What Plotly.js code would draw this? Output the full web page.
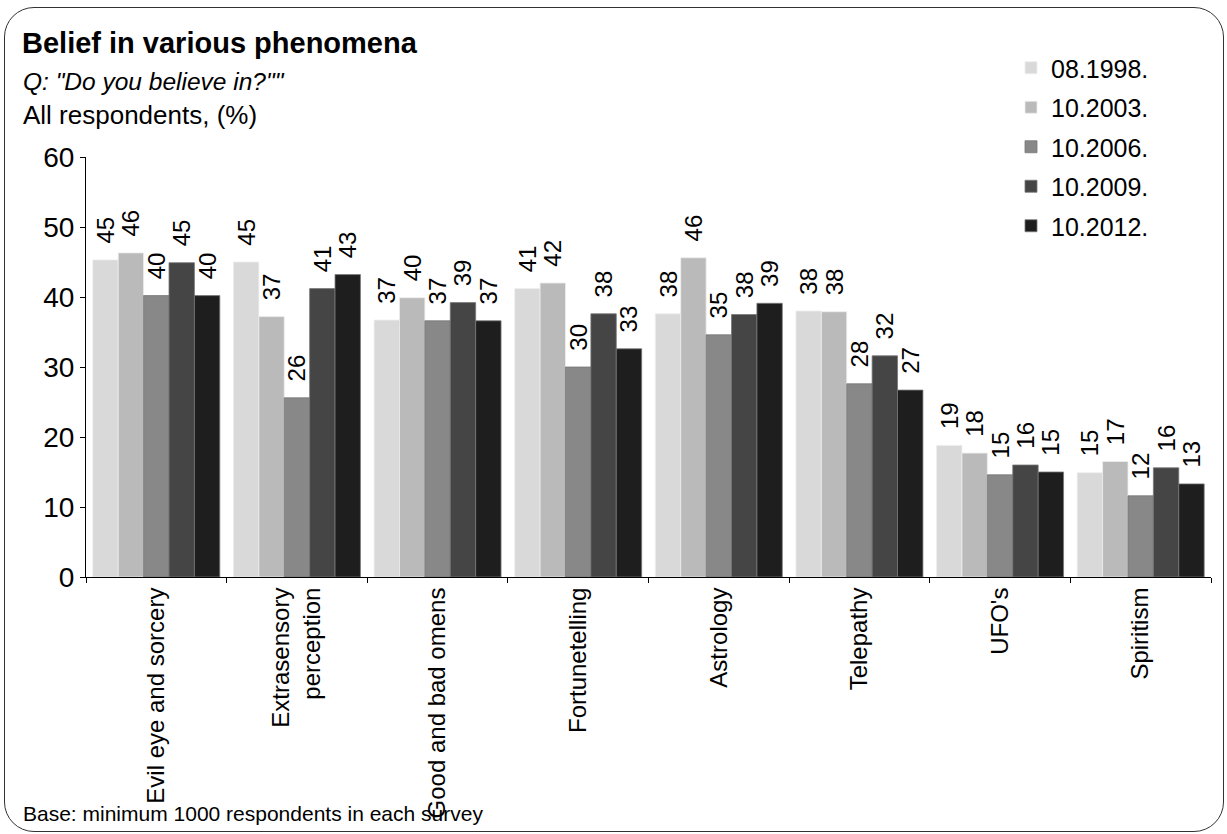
<!DOCTYPE html>
<html>
<head>
<meta charset="utf-8">
<script src="https://cdn.plot.ly/plotly-3.0.1.min.js"></script>
<style>
  html, body { margin: 0; padding: 0; background: #fff; }
  #wrap { position: relative; width: 1227px; height: 834px; }
  #chart { width: 1227px; height: 834px; }
  #frame { position: absolute; left: 4px; top: 7px; width: 1220px; height: 825px;
           border: 1.3px solid #333; border-radius: 30px; pointer-events: none; box-sizing: border-box; }
</style>
</head>
<body>
<div id="wrap">
  <div id="chart"></div>
  <div id="frame"></div>
</div>
<script>
const categories = ["Evil eye and sorcery", "Extrasensory<br>perception", "Good and bad omens",
  "Fortunetelling", "Astrology", "Telepathy", "UFO's", "Spiritism"];
const seriesNames = ["08.1998.", "10.2003.", "10.2006.", "10.2009.", "10.2012."];
const s1998 = [45.3, 45.0, 36.7, 41.2, 37.6, 38.0, 18.8, 14.9];
const s2003 = [46.3, 37.2, 39.9, 42.0, 45.6, 37.9, 17.7, 16.5];
const s2006 = [40.2, 25.6, 36.6, 30.0, 34.6, 27.6, 14.6, 11.6];
const s2009 = [44.9, 41.2, 39.2, 37.6, 37.5, 31.6, 16.0, 15.6];
const s2012 = [40.2, 43.2, 36.6, 32.6, 39.1, 26.7, 15.0, 13.3];
const seriesValues = [s1998, s2003, s2006, s2009, s2012];
const colors = ["#d9d9d9", "#bababa", "#888888", "#454545", "#1e1e1e"];

const FONT = "Arial, 'Liberation Sans', sans-serif";

const traces = seriesValues.map((vals, i) => ({
  type: "bar",
  name: seriesNames[i],
  x: categories,
  y: vals,
  marker: { color: colors[i], line: { color: i < 2 ? "#eeeeee" : "#777777", width: 0.8 } },
  text: vals.map(v => Math.round(v).toString()),
  texttemplate: "\u00a0\u00a0%{text}",
  textposition: "outside",
  textangle: -90,
  constraintext: "none",
  cliponaxis: false,
  textfont: { family: FONT, size: 24, color: "#000" },
  legendgroup: "g" + i,
  hoverinfo: "x+y+name"
}));

const L = 86, R = 1211, T = 157, B = 577;
const px = x => (x - L) / (R - L);
const py = y => (B - y) / (B - T);

const layout = {
  width: 1227, height: 834,
  margin: { l: L, r: 1227 - R, t: T, b: 834 - B, pad: 0 },
  paper_bgcolor: "rgba(0,0,0,0)",
  plot_bgcolor: "#fff",
  barmode: "group",
  bargap: 0.097,
  bargroupgap: 0,
  font: { family: FONT, color: "#000" },
  showlegend: true,
  legend: {
    x: px(1011), y: py(45), xanchor: "left", yanchor: "top",
    font: { family: FONT, size: 25, color: "#000" },
    traceorder: "grouped", tracegroupgap: 4,
    itemwidth: 30, bgcolor: "rgba(0,0,0,0)"
  },
  xaxis: {
    type: "category",
    tickangle: -90,
    tickfont: { family: FONT, size: 24, color: "#000" },
    showline: true, linecolor: "#000", linewidth: 1,
    ticks: "outside", tickson: "boundaries", ticklen: 5, tickcolor: "#000",
    showgrid: false, zeroline: false
  },
  yaxis: {
    range: [0, 60], dtick: 10,
    tickfont: { family: FONT, size: 28, color: "#000" },
    showline: true, linecolor: "#000", linewidth: 1,
    ticks: "outside", ticklen: 5, tickcolor: "#000",
    showgrid: false, zeroline: false
  },
  annotations: [
    { text: "<b>Belief in various phenomena</b>", x: px(20), y: py(43), xref: "paper", yref: "paper",
      xanchor: "left", yanchor: "middle", showarrow: false, font: { family: FONT, size: 29, color: "#000" } },
    { text: "<i>Q: \"Do you believe in?\"\"</i>", x: px(21), y: py(82), xref: "paper", yref: "paper",
      xanchor: "left", yanchor: "middle", showarrow: false, font: { family: FONT, size: 24.5, color: "#000" } },
    { text: "All respondents, (%)", x: px(21), y: py(115), xref: "paper", yref: "paper",
      xanchor: "left", yanchor: "middle", showarrow: false, font: { family: FONT, size: 26, color: "#000" } },
    { text: "Base: minimum 1000 respondents in each survey", x: px(21), y: py(813), xref: "paper", yref: "paper",
      xanchor: "left", yanchor: "middle", showarrow: false, font: { family: FONT, size: 21, color: "#000" } }
  ]
};

Plotly.newPlot("chart", traces, layout, { displayModeBar: false, staticPlot: true });
</script>
</body>
</html>
